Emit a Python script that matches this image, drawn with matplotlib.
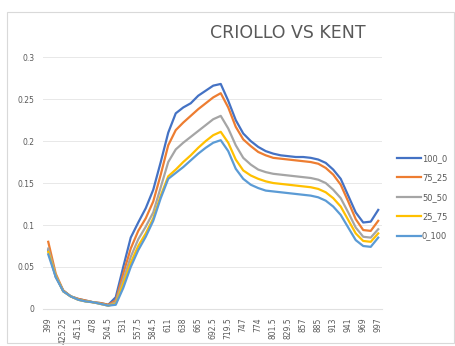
import matplotlib
matplotlib.use('Agg')
import matplotlib.pyplot as plt
from matplotlib.patches import Rectangle
import numpy as np

# Etiquetas del eje (cada segundo punto de la serie)
wavelength_labels = ['399', '425.25', '451.5', '478', '504.5', '531', '557.5', '584.5',
                     '611', '638', '665', '692.5', '719.5', '747', '774', '801.5',
                     '829.5', '857', '885', '913', '941', '969', '997']

s_100_0 = [0.070, 0.038, 0.022, 0.015, 0.012, 0.010, 0.008, 0.007, 0.005, 0.014,
           0.050, 0.085, 0.103, 0.120, 0.142, 0.175, 0.210, 0.233, 0.240, 0.245,
           0.254, 0.260, 0.266, 0.268, 0.248, 0.225, 0.209, 0.200, 0.193, 0.188,
           0.185, 0.183, 0.182, 0.181, 0.181, 0.180, 0.178, 0.174, 0.166, 0.155,
           0.135, 0.115, 0.103, 0.104, 0.118]
s_75_25 = [0.080, 0.042, 0.022, 0.015, 0.012, 0.010, 0.008, 0.007, 0.005, 0.010,
           0.042, 0.072, 0.093, 0.108, 0.128, 0.160, 0.195, 0.213, 0.222, 0.230,
           0.238, 0.245, 0.252, 0.257, 0.240, 0.217, 0.202, 0.194, 0.187, 0.183,
           0.180, 0.179, 0.178, 0.177, 0.176, 0.175, 0.173, 0.168, 0.160, 0.148,
           0.128, 0.107, 0.094, 0.093, 0.105]
s_50_50 = [0.072, 0.040, 0.021, 0.015, 0.011, 0.009, 0.008, 0.006, 0.004, 0.008,
           0.035, 0.062, 0.083, 0.098, 0.115, 0.145, 0.175, 0.190, 0.198, 0.205,
           0.212, 0.219, 0.226, 0.230, 0.215, 0.195, 0.180, 0.172, 0.166, 0.163,
           0.161, 0.160, 0.159, 0.158, 0.157, 0.156, 0.154, 0.150, 0.142, 0.132,
           0.115, 0.097, 0.086, 0.085, 0.095]
s_25_75 = [0.068, 0.039, 0.021, 0.015, 0.011, 0.009, 0.008, 0.006, 0.004, 0.006,
           0.030, 0.055, 0.075, 0.090, 0.108, 0.135, 0.158, 0.166, 0.175, 0.183,
           0.192, 0.200, 0.207, 0.211, 0.198, 0.178, 0.165, 0.159, 0.155, 0.152,
           0.150, 0.149, 0.148, 0.147, 0.146, 0.145, 0.143, 0.139, 0.132, 0.122,
           0.106, 0.090, 0.081, 0.080, 0.090]
s_0_100 = [0.065, 0.038, 0.021, 0.015, 0.011, 0.009, 0.008, 0.006, 0.004, 0.005,
           0.025, 0.050, 0.070, 0.086, 0.105, 0.132, 0.155, 0.162, 0.169, 0.177,
           0.185, 0.192, 0.198, 0.201, 0.188, 0.167, 0.155, 0.148, 0.144, 0.141,
           0.140, 0.139, 0.138, 0.137, 0.136, 0.135, 0.133, 0.129, 0.122, 0.112,
           0.097, 0.082, 0.075, 0.074, 0.085]

series_names = ['100_0', '75_25', '50_50', '25_75', '0_100']
series_colors = ['#4472C4', '#ED7D31', '#A5A5A5', '#FFC000', '#5B9BD5']
series_data = [s_100_0, s_75_25, s_50_50, s_25_75, s_0_100]

text_color = '#595959'

fig = plt.figure(figsize=(4.55, 3.46), dpi=100)
fig.patch.set_facecolor('white')
ax = fig.add_axes([0.0945, 0.107, 0.745, 0.728])

x = np.arange(len(s_100_0))
for vals, name, col in zip(series_data, series_names, series_colors):
    ax.plot(x, vals, color=col, linewidth=1.6, label=name)

ax.set_xlim(-0.7, len(s_100_0) - 1 + 0.5)
ax.set_ylim(0, 0.3)
ax.set_yticks([0, 0.05, 0.1, 0.15, 0.2, 0.25, 0.3])
ax.set_yticklabels(['0', '0.05', '0.1', '0.15', '0.2', '0.25', '0.3'])
ax.set_xticks(x[::2])
ax.set_xticklabels(wavelength_labels, rotation=90)
ax.tick_params(axis='both', length=0, labelsize=5.5, colors=text_color, pad=6)
ax.grid(axis='y', color='#E8E8E8', linewidth=0.7)
ax.set_axisbelow(True)
for s in ['top', 'right', 'left']:
    ax.spines[s].set_visible(False)
ax.spines['bottom'].set_color('#E0E0E0')

fig.text(0.633, 0.905, 'CRIOLLO VS KENT', ha='center', va='center',
         fontsize=12.5, color=text_color)

fig.legend(loc='center left', bbox_to_anchor=(0.855, 0.43), frameon=False,
           fontsize=6, handlelength=2.9, handletextpad=0.15, labelspacing=1.25,
           labelcolor=text_color)

# marco del grafico
fig.patches.append(Rectangle((7 / 455, 3 / 346), 447 / 455, 331 / 346,
                             transform=fig.transFigure, fill=False,
                             edgecolor='#D9D9D9', linewidth=0.8))

fig.savefig('out.png', dpi=100)
